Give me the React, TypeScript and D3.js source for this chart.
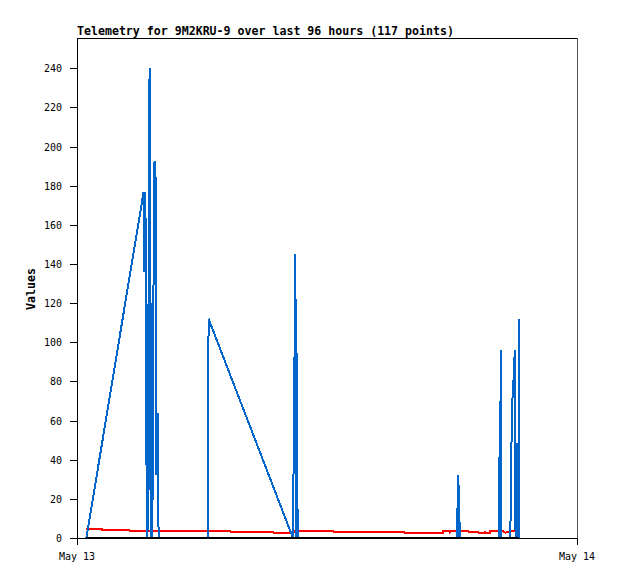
import { useEffect, useRef } from 'react';
import * as d3 from 'd3';

const title = 'Telemetry for 9M2KRU-9 over last 96 hours (117 points)';
const yLabel = 'Values';
const dayStart = '2024-05-13';
const dayEnd = '2024-05-14';
const xTickLabels = ['May 13', 'May 14'];
const yTicks = [0, 20, 40, 60, 80, 100, 120, 140, 160, 180, 200, 220, 240];

const blueTimes = [
  '00:27', '03:12', '03:13', '03:17', '03:19', '03:20', '03:23', '03:29', '03:32', '03:35',
  '03:36', '03:37', '03:42', '03:46', '03:48', '03:52', '03:55', '06:16', '06:19', '10:22',
  '10:29', '10:31', '10:32', '10:34', '10:35', '10:36', '18:14', '18:16', '18:17', '18:20',
  '18:21', '18:23', '18:24', '20:16', '20:17', '20:19', '20:20', '20:22', '20:48', '20:50',
  '20:53', '20:56', '20:59', '21:01', '21:03', '21:06', '21:10', '21:11', '21:13', '21:14',
];
const blueValues = [
  0, 177, 136, 177, 96, 40, 0, 240, 0, 120,
  96, 0, 192, 192, 32, 64, 0, 0, 112, 0,
  145, 0, 104, 0, 16, 0, 0, 16, 32, 24,
  0, 8, 0, 0, 48, 0, 96, 0, 0, 32,
  68, 76, 88, 96, 0, 48, 48, 0, 112, 0,
];

const redTimes = [
  '00:27', '01:11', '01:12', '02:30', '02:31', '06:14', '06:17', '06:20', '07:22', '07:23',
  '09:26', '09:27', '10:23', '10:28', '12:17', '12:19', '15:43', '15:44', '17:34', '17:35',
  '17:53', '17:54', '17:55', '18:46', '18:47', '19:15', '19:16', '19:35', '19:36', '19:37',
  '19:49', '19:50', '20:26', '20:28', '20:35', '20:38', '20:46', '20:48', '21:15',
];
const redValues = [
  4.7, 4.7, 4.2, 4.2, 3.7, 3.7, 3.2, 3.7, 3.7, 3.2,
  3.2, 2.7, 2.7, 3.7, 3.7, 3.2, 3.2, 2.7, 2.7, 3.7,
  3.7, 3.2, 3.7, 3.7, 3.2, 3.2, 2.7, 2.7, 3.7, 2.7,
  2.7, 3.7, 3.7, 3.2, 2.7, 3.2, 3.2, 3.7, 3.7,
];

const blackTimes = ['00:27', '21:14'];
const blackValues = [0, 0];

interface Point {
  t: Date;
  v: number;
}

const parse = d3.timeParse('%Y-%m-%d %H:%M');
const toPoints = (times: string[], values: number[]): Point[] =>
  times.map((t, i) => ({ t: parse(`${dayStart} ${t}`) as Date, v: values[i] }));

export default function App() {
  const svgRef = useRef<SVGSVGElement>(null);

  useEffect(() => {
    if (!svgRef.current) return;
    d3.select(svgRef.current).selectAll('*').remove();

    const width = 618;
    const height = 579;
    const plot = { left: 77, right: 577, top: 38, bottom: 538 };
    const font = '"DejaVu Sans Mono", monospace';

    const svg = d3.select(svgRef.current)
      .attr('width', width)
      .attr('height', height);

    svg.append('rect')
      .attr('width', width)
      .attr('height', height)
      .attr('fill', '#fff');

    const xScale = d3.scaleTime()
      .domain([new Date(`${dayStart}T00:00:00`), new Date(`${dayEnd}T00:00:00`)])
      .range([plot.left, plot.right]);

    const yScale = d3.scaleLinear()
      .domain([0, 255.5])
      .range([plot.bottom, plot.top]);

    // frame: top black, right grey; left + bottom axes drawn further down
    svg.append('line')
      .attr('x1', plot.left).attr('x2', plot.right)
      .attr('y1', plot.top + 0.5).attr('y2', plot.top + 0.5)
      .attr('stroke', '#000')
      .attr('shape-rendering', 'crispEdges');
    svg.append('line')
      .attr('x1', plot.right + 0.5).attr('x2', plot.right + 0.5)
      .attr('y1', plot.top).attr('y2', plot.bottom)
      .attr('stroke', '#555')
      .attr('shape-rendering', 'crispEdges');

    const line = d3.line<Point>()
      .x(d => xScale(d.t))
      .y(d => yScale(d.v));

    svg.append('path')
      .datum(toPoints(redTimes, redValues))
      .attr('fill', 'none')
      .attr('stroke', '#ff0000')
      .attr('stroke-width', 2)
      .attr('shape-rendering', 'crispEdges')
      .attr('d', line);

    svg.append('path')
      .datum(toPoints(blueTimes, blueValues))
      .attr('fill', 'none')
      .attr('stroke', '#0066cc')
      .attr('stroke-width', 2)
      .attr('stroke-linejoin', 'miter')
      .attr('stroke-miterlimit', 1)
      .attr('shape-rendering', 'crispEdges')
      .attr('d', line);

    // y axis
    svg.append('line')
      .attr('x1', plot.left + 0.5).attr('x2', plot.left + 0.5)
      .attr('y1', plot.top).attr('y2', plot.bottom + 7)
      .attr('stroke', '#000')
      .attr('shape-rendering', 'crispEdges');

    const yAxis = svg.append('g').attr('shape-rendering', 'crispEdges');
    yAxis.selectAll('line')
      .data(yTicks)
      .join('line')
      .attr('x1', plot.left - 7)
      .attr('x2', plot.left)
      .attr('y1', d => Math.round(yScale(d)) + 0.5)
      .attr('y2', d => Math.round(yScale(d)) + 0.5)
      .attr('stroke', '#000');
    yAxis.selectAll('text')
      .data(yTicks)
      .join('text')
      .attr('x', 62)
      .attr('y', d => yScale(d) + 4)
      .attr('text-anchor', 'end')
      .attr('font-family', font)
      .attr('font-size', '10px')
      .attr('fill', '#000')
      .text(d => d);

    // x axis
    svg.append('line')
      .attr('x1', plot.left - 7).attr('x2', plot.right)
      .attr('y1', plot.bottom + 0.5).attr('y2', plot.bottom + 0.5)
      .attr('stroke', '#000')
      .attr('shape-rendering', 'crispEdges');

    const xTickDates = xScale.domain();
    const xAxis = svg.append('g').attr('shape-rendering', 'crispEdges');
    xAxis.selectAll('line')
      .data(xTickDates)
      .join('line')
      .attr('x1', d => Math.round(xScale(d)) + 0.5)
      .attr('x2', d => Math.round(xScale(d)) + 0.5)
      .attr('y1', plot.bottom)
      .attr('y2', plot.bottom + 7)
      .attr('stroke', '#000');
    xAxis.selectAll('text')
      .data(xTickDates)
      .join('text')
      .attr('x', d => xScale(d))
      .attr('y', 560)
      .attr('text-anchor', 'middle')
      .attr('font-family', font)
      .attr('font-size', '10px')
      .attr('fill', '#000')
      .text((d, i) => xTickLabels[i]);

    // zero series drawn on top
    svg.append('path')
      .datum(toPoints(blackTimes, blackValues))
      .attr('fill', 'none')
      .attr('stroke', '#000')
      .attr('stroke-width', 2)
      .attr('shape-rendering', 'crispEdges')
      .attr('d', line);

    svg.append('text')
      .attr('x', plot.left)
      .attr('y', 35)
      .attr('font-family', font)
      .attr('font-size', '11.6px')
      .attr('font-weight', 'bold')
      .attr('fill', '#000')
      .text(title);

    svg.append('text')
      .attr('transform', `translate(35, ${(plot.top + plot.bottom) / 2 + 1}) rotate(-90)`)
      .attr('text-anchor', 'middle')
      .attr('font-family', font)
      .attr('font-size', '11.6px')
      .attr('font-weight', 'bold')
      .attr('fill', '#000')
      .text(yLabel);
  }, []);

  return (
    <div style={{ position: 'absolute', left: 0, top: 0 }}>
      <svg ref={svgRef} style={{ display: 'block' }} />
    </div>
  );
}
